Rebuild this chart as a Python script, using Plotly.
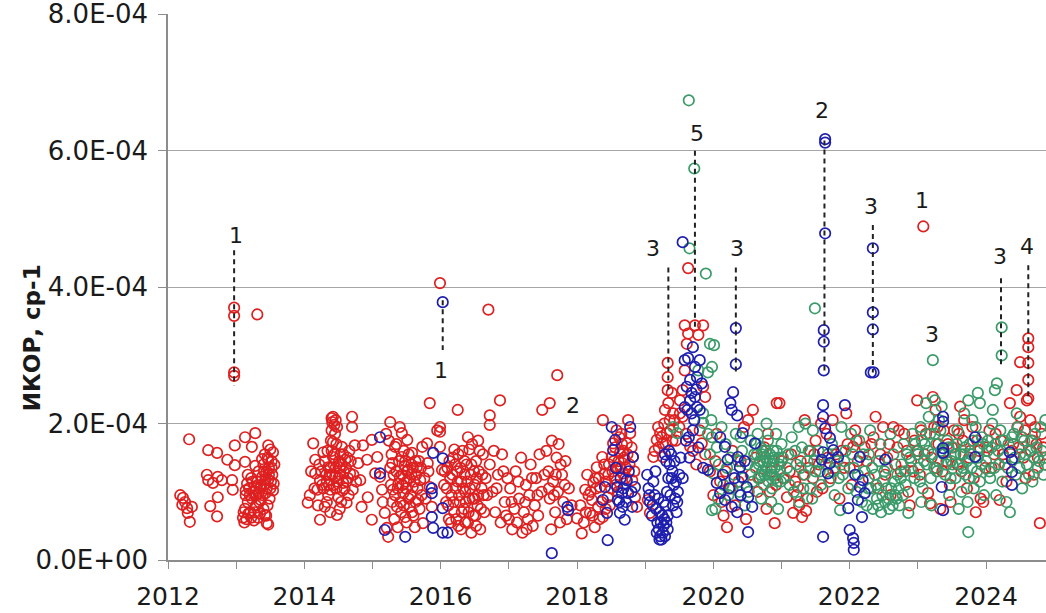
import plotly.graph_objects as go

# y values in units of 1E-04 sr^-1, x values in decimal years
red_points = [
    # 2012 - 2013
    (2012.18, 0.95), (2012.22, 0.91), (2012.21, 0.81), (2012.28, 0.76), (2012.35, 0.78),
    (2012.29, 0.69), (2012.32, 0.56), (2012.25, 0.85), (2012.31, 1.77),
    (2012.59, 1.61), (2012.72, 1.57), (2012.87, 1.47), (2012.98, 1.68), (2013.13, 1.80),
    (2013.28, 1.86), (2013.23, 1.66), (2013.47, 1.68),
    (2012.57, 1.25), (2012.59, 1.17), (2012.66, 1.13), (2012.73, 1.22), (2012.79, 1.17),
    (2012.94, 1.17), (2012.95, 1.03), (2012.73, 0.92), (2012.62, 0.79), (2012.72, 0.64),
    (2012.98, 1.39), (2013.13, 1.44),
    (2012.97, 3.70), (2012.97, 3.58), (2012.97, 2.75), (2012.97, 2.70), (2013.31, 3.60),
    (2013.10, 0.62), (2013.12, 0.55), (2013.15, 0.60), (2013.13, 0.75), (2013.17, 0.85),
    (2013.14, 0.95), (2013.19, 1.05), (2013.16, 1.12), (2013.21, 0.70), (2013.23, 0.90),
    (2013.25, 1.00), (2013.22, 1.20), (2013.27, 1.08), (2013.29, 0.80), (2013.30, 0.95),
    (2013.31, 1.15), (2013.33, 1.30), (2013.35, 1.05), (2013.36, 0.88), (2013.38, 1.22),
    (2013.40, 1.40), (2013.41, 1.10), (2013.43, 0.98), (2013.44, 1.28), (2013.46, 1.50),
    (2013.47, 1.18), (2013.48, 1.35), (2013.50, 1.05), (2013.52, 1.45), (2013.53, 1.25),
    (2013.54, 1.58), (2013.40, 0.75), (2013.44, 0.65), (2013.47, 0.52), (2013.35, 0.68),
    (2013.28, 1.38), (2013.26, 0.58), (2013.18, 0.68), (2013.55, 1.12), (2013.50, 1.62),
    (2013.47, 1.47), (2013.45, 0.54), (2013.42, 0.66),
    (2013.11, 0.70), (2013.14, 1.02), (2013.17, 1.25), (2013.20, 0.95), (2013.22, 0.62),
    (2013.24, 1.15), (2013.27, 0.70), (2013.30, 1.05), (2013.32, 0.62), (2013.34, 0.85),
    (2013.37, 1.10), (2013.39, 0.95), (2013.41, 1.30), (2013.43, 1.18), (2013.45, 1.05),
    (2013.46, 0.80), (2013.48, 1.25), (2013.49, 0.90), (2013.51, 1.15), (2013.52, 1.35),
    (2013.54, 1.02), (2013.56, 1.40), (2013.38, 1.48), (2013.42, 1.55), (2013.33, 0.98),
    # 2014 - 2015
    (2014.05, 0.84), (2014.13, 1.71), (2014.16, 1.47), (2014.16, 1.27), (2014.19, 1.03),
    (2014.23, 0.59), (2014.23, 1.17), (2014.28, 1.58), (2014.30, 0.78), (2014.35, 1.36),
    (2014.38, 1.03), (2014.40, 2.08), (2014.40, 1.90), (2014.42, 1.73), (2014.42, 1.51),
    (2014.45, 1.22), (2014.48, 0.66), (2014.50, 0.92), (2014.52, 1.36), (2014.55, 1.66),
    (2014.57, 1.13), (2014.60, 1.47), (2014.62, 0.84), (2014.70, 2.10), (2014.70, 1.95),
    (2014.67, 1.27), (2014.71, 1.03), (2014.74, 1.68), (2014.79, 1.42), (2014.82, 1.17),
    (2014.84, 0.78), (2014.86, 1.68), (2014.92, 1.47), (2014.93, 0.92), (2014.99, 1.76),
    (2014.99, 0.59), (2015.07, 1.51), (2015.04, 1.27),
    (2014.33, 1.15), (2014.37, 1.25), (2014.43, 1.40), (2014.47, 1.05), (2014.50, 1.20),
    (2014.53, 1.55), (2014.56, 1.02), (2014.45, 1.85), (2014.40, 1.60), (2014.35, 0.95),
    (2014.58, 1.30), (2014.62, 1.15), (2014.28, 1.05), (2014.48, 1.95), (2014.41, 2.02),
    (2014.25, 1.30), (2014.20, 0.80), (2014.65, 0.95), (2014.66, 1.60),
    (2014.22, 1.40), (2014.26, 1.10), (2014.30, 1.45), (2014.32, 1.25), (2014.34, 1.60),
    (2014.36, 1.10), (2014.38, 1.35), (2014.39, 1.75), (2014.41, 1.25), (2014.43, 1.10),
    (2014.44, 1.55), (2014.46, 1.35), (2014.47, 1.70), (2014.49, 1.15), (2014.51, 1.45),
    (2014.53, 1.25), (2014.54, 0.85), (2014.55, 1.40), (2014.57, 1.55), (2014.59, 1.05),
    (2014.61, 1.35), (2014.63, 1.50), (2014.64, 1.20), (2014.68, 1.45), (2014.72, 1.25),
    (2014.76, 1.15), (2014.44, 1.98), (2014.42, 2.10), (2014.46, 2.05), (2014.52, 0.75),
    (2014.38, 0.70), (2014.33, 0.85), (2014.15, 1.05), (2014.10, 1.30), (2014.08, 0.95),
    (2015.26, 2.02), (2015.40, 1.95), (2015.43, 1.86), (2015.11, 1.22), (2015.14, 1.03),
    (2015.15, 0.85), (2015.18, 0.69), (2015.21, 0.47), (2015.23, 0.34), (2015.29, 1.42),
    (2015.30, 1.03), (2015.33, 1.66), (2015.36, 0.78), (2015.37, 0.48), (2015.40, 1.22),
    (2015.43, 1.51), (2015.45, 0.98), (2015.48, 0.63), (2015.51, 1.76), (2015.52, 1.32),
    (2015.55, 0.78), (2015.58, 1.57), (2015.59, 1.07), (2015.62, 0.48), (2015.65, 1.36),
    (2015.67, 0.88), (2015.70, 1.17), (2015.73, 1.66), (2015.74, 0.54), (2015.80, 1.71),
    (2015.81, 1.42), (2015.84, 1.07), (2015.87, 0.78), (2015.95, 1.90), (2015.99, 1.66),
    (2016.02, 1.32),
    (2015.35, 1.30), (2015.38, 1.12), (2015.42, 0.70), (2015.46, 1.60), (2015.50, 1.15),
    (2015.53, 0.90), (2015.57, 1.25), (2015.60, 0.65), (2015.63, 1.45), (2015.27, 1.10),
    (2015.32, 0.60), (2015.47, 1.38), (2015.24, 1.75), (2015.20, 1.85),
    (2015.28, 1.55), (2015.31, 1.25), (2015.33, 0.95), (2015.35, 1.70), (2015.37, 1.05),
    (2015.39, 1.45), (2015.41, 0.85), (2015.43, 1.25), (2015.44, 1.10), (2015.46, 0.80),
    (2015.48, 1.45), (2015.49, 1.05), (2015.51, 1.30), (2015.53, 1.55), (2015.54, 1.20),
    (2015.56, 0.95), (2015.57, 1.40), (2015.59, 1.35), (2015.61, 1.15), (2015.63, 0.85),
    (2015.64, 1.25), (2015.66, 1.05), (2015.68, 1.45), (2015.69, 0.75), (2015.71, 1.35),
    (2015.72, 0.95), (2015.76, 1.20), (2015.78, 0.90), (2015.82, 1.30), (2015.29, 0.85),
    (2015.26, 1.35), (2015.50, 0.55), (2015.58, 0.70),
    (2015.84, 2.30), (2015.99, 4.06), (2015.99, 1.95), (2015.99, 1.88),
    # 2016 - 2018
    (2016.25, 2.20), (2016.87, 2.34), (2016.72, 2.12), (2016.72, 1.98), (2016.70, 3.67),
    (2017.49, 2.20), (2017.60, 2.30), (2017.71, 2.71),
    (2016.05, 1.10), (2016.08, 0.85), (2016.10, 1.35), (2016.12, 0.60), (2016.14, 1.20),
    (2016.16, 0.95), (2016.18, 1.50), (2016.20, 0.70), (2016.22, 1.05), (2016.24, 1.30),
    (2016.26, 0.50), (2016.28, 0.85), (2016.30, 1.15), (2016.32, 1.60), (2016.34, 0.75),
    (2016.36, 1.00), (2016.38, 1.40), (2016.40, 0.55), (2016.42, 0.90), (2016.44, 1.25),
    (2016.46, 1.70), (2016.48, 0.65), (2016.50, 1.10), (2016.52, 1.45), (2016.54, 0.80),
    (2016.56, 1.30), (2016.58, 0.45), (2016.60, 1.05), (2016.62, 1.55), (2016.64, 0.70),
    (2016.66, 1.20), (2016.40, 1.80), (2016.55, 1.75), (2016.45, 0.40), (2016.30, 0.45),
    (2016.20, 1.62), (2016.35, 1.25), (2016.50, 0.90), (2016.15, 0.55), (2016.68, 0.95),
    (2016.06, 1.30), (2016.09, 1.05), (2016.11, 0.80), (2016.13, 1.45), (2016.17, 1.25),
    (2016.19, 0.85), (2016.21, 1.40), (2016.23, 0.60), (2016.25, 1.15), (2016.27, 0.95),
    (2016.29, 1.35), (2016.31, 0.70), (2016.33, 1.05), (2016.35, 1.45), (2016.37, 0.85),
    (2016.39, 1.15), (2016.41, 0.70), (2016.43, 1.05), (2016.45, 1.40), (2016.47, 0.90),
    (2016.49, 1.30), (2016.51, 0.65), (2016.53, 1.20), (2016.55, 0.95), (2016.57, 1.60),
    (2016.59, 0.75), (2016.61, 1.25), (2016.63, 0.95), (2016.36, 0.55), (2016.42, 1.62),
    (2016.26, 1.55), (2016.52, 0.50),
    (2016.72, 1.40), (2016.76, 1.00), (2016.80, 0.70), (2016.84, 1.25), (2016.88, 0.55),
    (2016.90, 1.55), (2016.94, 0.85), (2016.98, 1.20), (2017.00, 0.60), (2016.78, 1.60),
    (2016.82, 1.05), (2016.92, 1.30), (2016.96, 0.65),
    (2017.02, 1.05), (2017.05, 0.45), (2017.08, 0.75), (2017.10, 1.30), (2017.12, 0.55),
    (2017.15, 0.90), (2017.18, 1.50), (2017.20, 0.40), (2017.22, 0.70), (2017.25, 1.10),
    (2017.28, 0.60), (2017.30, 0.95), (2017.32, 1.40), (2017.35, 0.50), (2017.38, 0.80),
    (2017.40, 1.20), (2017.43, 0.65), (2017.45, 1.55), (2017.48, 1.00),
    (2017.04, 0.85), (2017.14, 1.15), (2017.24, 0.85), (2017.34, 1.20), (2017.42, 0.95),
    (2017.52, 1.25), (2017.26, 0.45),
    (2017.55, 1.60), (2017.58, 1.30), (2017.60, 0.90), (2017.62, 0.45), (2017.65, 1.15),
    (2017.68, 0.70), (2017.70, 1.50), (2017.72, 1.00), (2017.75, 0.55), (2017.78, 1.25),
    (2017.80, 0.85), (2017.83, 1.45), (2017.85, 0.60), (2017.63, 1.75), (2017.73, 1.70),
    (2017.88, 1.05), (2017.92, 0.80), (2017.66, 0.95), (2017.76, 1.40), (2017.82, 1.10),
    (2017.69, 1.25), (2017.59, 1.05),
    # 2018 - 2019
    (2018.00, 0.61), (2018.07, 0.39), (2018.12, 1.03), (2018.15, 1.25), (2018.19, 0.69),
    (2018.22, 0.88), (2018.24, 1.14), (2018.26, 0.48), (2018.29, 1.36), (2018.31, 0.78),
    (2018.34, 1.07), (2018.37, 1.51), (2018.38, 2.05), (2018.38, 0.63), (2018.41, 1.27),
    (2018.45, 0.92), (2018.51, 1.51), (2018.53, 1.71), (2018.59, 1.36), (2018.63, 1.57),
    (2018.67, 1.27), (2018.70, 1.47), (2018.73, 1.71), (2018.75, 2.05), (2018.78, 1.86),
    (2018.81, 1.17), (2018.82, 1.51), (2018.85, 0.92), (2018.88, 0.78),
    (2018.05, 0.80), (2018.10, 0.55), (2018.20, 1.00), (2018.27, 1.20), (2018.33, 0.60),
    (2018.43, 1.15), (2018.47, 1.40), (2018.55, 1.20), (2018.60, 1.00), (2018.65, 1.85),
    (2018.68, 1.60), (2018.72, 1.35), (2018.56, 1.65), (2018.48, 0.80),
    (2018.13, 0.70), (2018.17, 0.95), (2018.23, 0.65), (2018.28, 1.05), (2018.32, 1.20),
    (2018.36, 0.85), (2018.40, 1.40), (2018.42, 0.75), (2018.46, 1.25), (2018.50, 1.05),
    (2018.52, 1.30), (2018.54, 1.45), (2018.57, 1.10), (2018.61, 1.45), (2018.64, 1.35),
    (2018.66, 1.70), (2018.69, 1.50), (2018.71, 1.20), (2018.74, 1.55), (2018.77, 1.40),
    (2018.80, 1.65), (2018.84, 1.30), (2018.62, 1.80), (2018.58, 1.90),
    (2019.07, 0.69), (2019.04, 0.88), (2019.22, 1.86), (2019.26, 1.71), (2019.32, 1.86),
    (2019.36, 2.05), (2019.29, 2.20), (2019.33, 2.89), (2019.33, 2.68), (2019.33, 2.49),
    (2019.39, 2.45), (2019.26, 1.51), (2019.17, 1.76), (2019.12, 1.51), (2019.41, 2.15),
    (2019.14, 1.60), (2019.19, 1.95), (2019.24, 1.80), (2019.28, 2.00), (2019.30, 1.70),
    (2019.34, 2.30), (2019.37, 1.90), (2019.40, 1.75), (2019.43, 2.05), (2019.20, 1.65),
    (2019.58, 3.44), (2019.73, 3.44), (2019.85, 3.44), (2019.63, 3.32), (2019.78, 3.30),
    (2019.61, 3.17), (2019.58, 2.78), (2019.55, 2.49), (2019.85, 2.54), (2019.88, 2.39),
    (2019.51, 2.34), (2019.51, 2.15), (2019.83, 1.71), (2019.66, 1.66), (2019.63, 4.28),
    (2019.45, 1.75), (2019.50, 1.95), (2019.55, 2.10), (2019.60, 1.85), (2019.70, 1.60),
    (2019.75, 1.40), (2019.80, 1.90), (2019.88, 1.55),
    # 2020 - 2025
    (2019.95, 1.30), (2020.00, 0.95), (2020.05, 1.85), (2020.10, 1.15), (2020.15, 0.65),
    (2020.20, 0.48), (2020.25, 1.05), (2020.32, 0.80), (2020.40, 1.45), (2020.48, 0.60),
    (2020.51, 2.05), (2020.55, 1.25), (2020.58, 2.20), (2020.45, 1.95), (2020.12, 0.85),
    (2020.03, 1.45), (2020.18, 1.30), (2020.28, 1.60), (2020.37, 1.15),
    (2020.65, 1.00), (2020.72, 1.60), (2020.78, 0.75), (2020.85, 1.30), (2020.90, 0.54),
    (2020.93, 2.30), (2020.97, 2.30), (2020.92, 1.10), (2021.00, 1.45), (2020.80, 1.85),
    (2020.62, 1.50), (2020.68, 1.20), (2020.75, 1.65), (2020.83, 1.00), (2020.88, 1.45),
    (2021.08, 0.92), (2021.12, 1.30), (2021.17, 0.69), (2021.20, 1.15), (2021.24, 1.07),
    (2021.28, 1.45), (2021.30, 0.63), (2021.32, 1.25), (2021.34, 2.05), (2021.38, 0.90),
    (2021.42, 1.60), (2021.46, 1.20), (2021.50, 1.75), (2021.55, 1.40), (2021.58, 2.00),
    (2021.60, 1.05), (2021.26, 0.80), (2021.36, 0.72),
    (2021.03, 1.20), (2021.14, 1.55), (2021.22, 0.95), (2021.40, 1.35), (2021.48, 1.55),
    (2021.52, 1.00),
    (2021.66, 1.85), (2021.72, 1.20), (2021.80, 1.55), (2021.85, 0.90), (2021.92, 1.35),
    (2021.97, 1.70), (2022.03, 1.10), (2022.05, 1.66), (2022.08, 1.90), (2022.12, 1.45),
    (2021.75, 2.05), (2021.95, 2.15), (2021.68, 1.50), (2021.78, 1.35), (2021.88, 1.60),
    (2022.00, 1.35), (2022.10, 1.75),
    (2022.22, 1.65), (2022.28, 1.20), (2022.35, 1.80), (2022.42, 1.05), (2022.49, 1.95),
    (2022.55, 1.50), (2022.60, 0.95), (2022.64, 1.95), (2022.70, 1.65), (2022.75, 1.30),
    (2022.80, 1.85), (2022.86, 1.00), (2022.90, 1.45), (2022.38, 2.10),
    (2022.25, 1.45), (2022.32, 1.70), (2022.45, 1.55), (2022.52, 1.25), (2022.58, 1.70),
    (2022.67, 1.40), (2022.72, 1.90), (2022.84, 1.60), (2022.88, 0.80),
    (2022.95, 1.75), (2022.99, 2.34), (2023.03, 1.25), (2023.08, 4.89), (2023.10, 1.55),
    (2023.15, 0.98), (2023.18, 0.83), (2023.22, 2.39), (2023.24, 1.95), (2023.27, 1.35),
    (2023.30, 1.70), (2023.33, 0.75), (2023.38, 1.90), (2023.42, 1.45), (2023.47, 1.10),
    (2023.50, 1.65), (2023.26, 2.20), (2023.05, 1.90),
    (2022.93, 1.30), (2023.00, 1.60), (2023.12, 1.85), (2023.20, 1.50), (2023.29, 1.95),
    (2023.36, 1.30), (2023.44, 1.70), (2023.48, 0.85),
    (2023.55, 1.55), (2023.60, 1.85), (2023.64, 1.30), (2023.68, 2.05), (2023.72, 1.05),
    (2023.77, 1.60), (2023.82, 1.20), (2023.87, 1.75), (2023.92, 0.90), (2023.96, 0.85),
    (2024.02, 1.65), (2023.62, 2.25), (2023.85, 0.70),
    (2023.53, 1.90), (2023.58, 1.40), (2023.66, 1.75), (2023.75, 1.50), (2023.80, 1.95),
    (2023.90, 1.60), (2023.99, 1.35),
    (2024.08, 1.35), (2024.14, 1.85), (2024.20, 0.88), (2024.25, 1.55), (2024.30, 1.15),
    (2024.35, 2.30), (2024.40, 1.70), (2024.45, 2.49), (2024.46, 1.95), (2024.50, 2.90),
    (2024.50, 2.10), (2024.53, 1.80), (2024.57, 1.90), (2024.62, 3.25), (2024.62, 3.12),
    (2024.62, 2.89), (2024.62, 2.64), (2024.62, 2.37), (2024.60, 2.34), (2024.65, 2.05),
    (2024.68, 1.75), (2024.72, 1.95), (2024.76, 1.50), (2024.79, 0.54), (2024.82, 1.85),
    (2024.86, 1.40), (2024.58, 1.20),
    (2024.05, 1.90), (2024.12, 1.55), (2024.22, 1.75), (2024.28, 1.40), (2024.38, 1.60),
    (2024.48, 1.65), (2024.55, 1.50), (2024.66, 1.60), (2024.70, 1.25), (2024.74, 1.70),
    (2024.84, 1.65),
]

blue_points = [
    (2015.11, 1.80), (2015.11, 1.27), (2015.18, 0.44), (2015.48, 0.34),
    (2015.87, 0.98), (2015.87, 1.05), (2015.89, 1.57), (2015.87, 0.63), (2015.89, 0.47),
    (2016.03, 1.49), (2016.03, 0.76), (2016.03, 0.40), (2016.10, 0.40), (2016.03, 3.78),
    (2017.63, 0.10), (2017.87, 0.73), (2017.86, 0.78),
    (2018.45, 0.29), (2018.51, 1.95), (2018.56, 1.76), (2018.53, 1.61), (2018.59, 1.07),
    (2018.60, 0.88), (2018.63, 0.69), (2018.66, 0.98), (2018.67, 0.78), (2018.70, 0.59),
    (2018.73, 1.17), (2018.75, 0.98), (2018.78, 1.95), (2018.81, 0.78), (2018.82, 1.51),
    (2018.85, 1.07), (2018.38, 0.88), (2018.44, 0.69), (2018.41, 1.07),
    (2018.62, 0.85), (2018.64, 1.20), (2018.68, 1.05), (2018.72, 0.85), (2018.76, 1.30),
    (2018.80, 1.00), (2018.57, 1.35),
    (2019.03, 1.25), (2019.05, 1.05), (2019.07, 0.85), (2019.10, 0.65), (2019.12, 1.15),
    (2019.14, 0.95), (2019.16, 0.75), (2019.18, 0.55), (2019.20, 0.45), (2019.22, 0.35),
    (2019.24, 0.30), (2019.26, 0.40), (2019.28, 0.60), (2019.30, 0.80), (2019.32, 1.00),
    (2019.34, 1.20), (2019.36, 1.40), (2019.38, 1.55), (2019.40, 1.30), (2019.42, 1.10),
    (2019.44, 0.90), (2019.46, 0.70), (2019.48, 1.00), (2019.50, 1.25), (2019.27, 0.50),
    (2019.23, 0.55), (2019.21, 0.70), (2019.31, 1.45), (2019.29, 1.55), (2019.35, 1.60),
    (2019.33, 0.65), (2019.15, 1.30), (2019.52, 1.50),
    (2019.06, 0.95), (2019.11, 0.80), (2019.17, 0.40), (2019.19, 0.90), (2019.21, 0.30),
    (2019.25, 0.65), (2019.27, 0.85), (2019.29, 0.35), (2019.31, 0.55), (2019.33, 0.45),
    (2019.37, 0.95), (2019.39, 1.20), (2019.41, 0.80), (2019.43, 1.45), (2019.45, 1.15),
    (2019.47, 0.85),
    (2019.63, 2.96), (2019.58, 2.93), (2019.66, 2.64), (2019.73, 2.83), (2019.80, 2.93),
    (2019.61, 2.54), (2019.73, 2.39), (2019.66, 2.34), (2019.83, 2.59), (2019.76, 2.24),
    (2019.58, 2.24), (2019.70, 3.12), (2019.68, 2.15), (2019.76, 2.68), (2019.55, 4.66),
    (2019.55, 1.20), (2019.60, 1.75), (2019.65, 1.50), (2019.70, 1.90), (2019.78, 1.65),
    (2019.85, 1.35), (2019.62, 2.20), (2019.72, 2.05), (2019.92, 1.32),
    (2019.64, 1.80), (2019.68, 2.45), (2019.75, 2.50), (2019.80, 2.20),
    (2020.33, 3.40), (2020.33, 2.87), (2020.29, 2.46), (2020.25, 2.30), (2020.27, 2.20),
    (2020.35, 2.12), (2020.43, 1.86), (2020.61, 1.71), (2020.10, 1.80), (2020.17, 1.66),
    (2020.21, 1.47), (2020.36, 1.51), (2020.39, 1.36), (2020.42, 1.22), (2020.49, 1.07),
    (2020.05, 1.13), (2020.10, 0.98), (2020.17, 0.88), (2020.27, 0.78), (2020.35, 0.70),
    (2020.51, 0.92), (2020.57, 0.78), (2020.51, 0.41),
    (2020.14, 1.25), (2020.23, 1.05), (2020.31, 1.20), (2020.40, 0.95), (2020.46, 1.45),
    (2021.64, 6.17), (2021.64, 6.12), (2021.64, 4.79), (2021.62, 3.37), (2021.62, 3.20),
    (2021.62, 2.78), (2021.61, 2.27), (2021.61, 2.10), (2021.64, 1.93), (2021.71, 1.79),
    (2021.61, 1.58), (2021.59, 1.47), (2021.71, 1.42), (2021.68, 1.27), (2021.83, 1.51),
    (2021.76, 1.61), (2021.61, 0.34), (2021.93, 2.27),
    (2022.34, 4.57), (2022.34, 3.63), (2022.34, 3.38), (2022.31, 2.75), (2022.35, 2.75),
    (2022.15, 1.51), (2022.08, 1.25), (2022.19, 1.17), (2022.15, 1.07), (2022.22, 0.98),
    (2022.12, 0.88), (2021.98, 0.76), (2022.18, 0.63), (2022.00, 0.44), (2022.05, 0.32),
    (2022.06, 0.25), (2022.06, 0.15), (2022.52, 1.47),
    (2023.37, 2.10), (2023.37, 2.03), (2023.37, 1.64), (2023.37, 1.57), (2023.35, 1.07),
    (2023.37, 0.73), (2023.84, 1.80), (2023.84, 1.51),
    (2024.35, 1.58), (2024.38, 1.47), (2024.38, 1.29), (2024.38, 1.10),
]

green_points = [
    (2019.64, 6.74), (2019.72, 5.74), (2019.65, 4.57), (2019.89, 4.20), (2020.01, 3.15),
    (2019.95, 3.17), (2019.78, 2.78), (2019.98, 2.83), (2019.85, 2.01), (2019.41, 1.95),
    (2019.47, 1.86), (2019.98, 1.80), (2020.00, 1.27), (2019.98, 0.73), (2019.92, 2.75),
    (2019.85, 2.15),
    (2021.49, 3.69), (2023.22, 2.93), (2024.23, 3.41), (2024.23, 3.00), (2024.16, 2.59),
    (2024.13, 2.49), (2023.88, 2.45), (2023.91, 2.30), (2023.74, 2.34), (2023.25, 2.34),
    (2023.74, 0.41), (2022.86, 0.69),
    (2019.92, 1.85), (2019.95, 1.55), (2019.97, 2.05), (2020.03, 0.75), (2020.05, 1.65),
    (2020.08, 1.40), (2020.12, 1.95), (2020.15, 1.10), (2020.18, 1.70), (2020.22, 0.95),
    (2020.25, 1.50), (2020.30, 1.25), (2020.33, 1.85), (2020.38, 1.00), (2020.42, 1.60),
    (2020.46, 0.80), (2020.50, 1.40), (2020.55, 1.75), (2020.58, 1.15),
    (2020.20, 1.35), (2020.28, 1.05), (2020.36, 1.45), (2020.44, 1.20), (2020.52, 1.00),
    (2020.07, 0.90), (2020.40, 1.80),
    (2020.62, 1.35), (2020.64, 1.55), (2020.66, 1.20), (2020.68, 1.45), (2020.70, 1.65),
    (2020.72, 1.30), (2020.74, 1.10), (2020.76, 1.50), (2020.78, 1.35), (2020.80, 1.75),
    (2020.82, 1.25), (2020.84, 1.45), (2020.86, 1.05), (2020.88, 1.60), (2020.90, 1.35),
    (2020.92, 1.85), (2020.94, 1.15), (2020.96, 1.50), (2020.98, 1.30), (2021.00, 1.70),
    (2020.70, 0.90), (2020.85, 0.85), (2020.65, 1.85), (2020.95, 0.75), (2020.78, 2.00),
    (2020.60, 1.55), (2020.63, 1.70), (2020.67, 1.40), (2020.69, 1.25), (2020.71, 1.55),
    (2020.73, 1.45), (2020.75, 1.25), (2020.77, 1.60), (2020.79, 1.45), (2020.81, 1.15),
    (2020.83, 1.55), (2020.85, 1.35), (2020.87, 1.25), (2020.89, 1.50), (2020.91, 1.20),
    (2020.93, 1.60), (2020.97, 1.40), (2020.99, 1.15),
    (2021.05, 1.20), (2021.10, 1.55), (2021.15, 1.80), (2021.18, 1.00), (2021.22, 1.40),
    (2021.26, 0.85), (2021.30, 1.65), (2021.34, 1.25), (2021.38, 1.45), (2021.42, 1.05),
    (2021.46, 1.90), (2021.50, 1.30), (2021.54, 1.60), (2021.58, 1.10), (2021.35, 2.00),
    (2021.45, 0.90), (2021.25, 1.95),
    (2021.02, 1.50), (2021.08, 1.35), (2021.12, 1.10), (2021.20, 1.60), (2021.28, 1.35),
    (2021.32, 1.05), (2021.40, 1.60), (2021.48, 1.45), (2021.56, 1.30),
    (2021.65, 1.40), (2021.70, 1.15), (2021.74, 1.70), (2021.78, 0.95), (2021.82, 1.45),
    (2021.86, 0.73), (2021.90, 1.25), (2021.94, 1.60), (2021.98, 1.05), (2022.02, 1.85),
    (2022.06, 1.35), (2022.10, 1.00), (2022.14, 1.75), (2022.18, 0.85), (2021.88, 1.95),
    (2021.68, 1.55), (2021.76, 1.30), (2021.84, 1.20), (2021.92, 1.45), (2022.04, 1.55),
    (2022.12, 1.25), (2022.20, 1.55),
    (2022.22, 1.30), (2022.25, 0.80), (2022.28, 1.55), (2022.31, 1.05), (2022.34, 0.75),
    (2022.37, 1.25), (2022.40, 0.90), (2022.43, 1.45), (2022.46, 0.70), (2022.49, 1.15),
    (2022.52, 0.85), (2022.55, 1.35), (2022.58, 0.75), (2022.61, 1.05), (2022.64, 1.55),
    (2022.67, 0.95), (2022.70, 1.25), (2022.73, 0.80), (2022.76, 1.40), (2022.79, 1.70),
    (2022.82, 1.10), (2022.45, 1.70), (2022.60, 1.85), (2022.30, 1.90),
    (2022.27, 1.05), (2022.33, 1.35), (2022.39, 1.10), (2022.42, 0.80), (2022.48, 0.95),
    (2022.51, 1.30), (2022.54, 1.05), (2022.57, 0.90), (2022.63, 0.80), (2022.66, 1.15),
    (2022.69, 0.90), (2022.72, 1.05), (2022.75, 1.20), (2022.78, 0.95), (2022.81, 1.30),
    (2022.84, 1.55),
    (2022.88, 1.50), (2022.92, 1.85), (2022.95, 1.20), (2022.98, 1.60), (2023.01, 1.35),
    (2023.04, 1.95), (2023.07, 1.05), (2023.10, 1.70), (2023.13, 1.40), (2023.16, 2.10),
    (2023.19, 1.20), (2023.22, 1.55), (2023.25, 1.85), (2023.28, 1.30), (2023.31, 2.05),
    (2023.34, 1.60), (2023.40, 1.25), (2023.43, 1.75), (2023.46, 0.95), (2023.49, 1.45),
    (2023.05, 0.85), (2023.20, 0.80), (2023.35, 2.25), (2023.12, 2.30),
    (2022.90, 1.35), (2022.96, 1.70), (2023.00, 1.55), (2023.03, 1.15), (2023.06, 1.75),
    (2023.09, 1.45), (2023.15, 1.60), (2023.18, 1.85), (2023.24, 1.35), (2023.27, 1.70),
    (2023.30, 1.45), (2023.33, 1.90), (2023.38, 1.55), (2023.42, 1.40), (2023.45, 1.65),
    (2023.48, 1.20),
    (2023.52, 1.65), (2023.55, 1.20), (2023.58, 1.90), (2023.61, 1.40), (2023.64, 1.00),
    (2023.67, 1.55), (2023.70, 1.25), (2023.73, 0.85), (2023.76, 1.70), (2023.79, 1.35),
    (2023.82, 1.05), (2023.85, 1.95), (2023.88, 1.50), (2023.91, 1.15), (2023.94, 1.80),
    (2023.97, 0.95), (2023.60, 0.75), (2023.80, 2.05), (2023.68, 2.15),
    (2023.51, 1.40), (2023.54, 1.55), (2023.57, 1.70), (2023.63, 1.55), (2023.66, 1.35),
    (2023.69, 1.65), (2023.72, 1.45), (2023.75, 1.20), (2023.78, 1.55), (2023.81, 1.75),
    (2023.87, 1.30), (2023.90, 1.65), (2023.93, 1.40), (2023.96, 1.70),
    (2024.00, 1.45), (2024.03, 1.75), (2024.06, 1.20), (2024.09, 2.00), (2024.12, 1.35),
    (2024.15, 0.95), (2024.18, 1.60), (2024.21, 1.90), (2024.24, 1.15), (2024.27, 1.50),
    (2024.30, 0.85), (2024.33, 1.70), (2024.41, 1.85), (2024.44, 1.25), (2024.47, 1.95),
    (2024.50, 1.55), (2024.53, 1.05), (2024.56, 1.75), (2024.60, 1.40), (2024.64, 1.60),
    (2024.68, 1.15), (2024.72, 1.85), (2024.76, 1.35), (2024.80, 1.95), (2024.84, 1.25),
    (2024.87, 2.05), (2024.10, 2.20), (2024.45, 2.15), (2024.35, 0.70),
    (2024.02, 1.60), (2024.05, 1.30), (2024.08, 1.65), (2024.14, 1.70), (2024.19, 1.40),
    (2024.26, 1.75), (2024.32, 1.35), (2024.38, 1.80), (2024.42, 1.50), (2024.49, 1.35),
    (2024.52, 1.80), (2024.58, 1.55), (2024.63, 1.25), (2024.66, 1.75), (2024.70, 1.50),
    (2024.74, 1.65), (2024.78, 1.45), (2024.82, 1.60), (2024.86, 1.50),
]

# event labels
label_x = [2013.00, 2016.00, 2017.94, 2019.11, 2019.76, 2020.35, 2021.59, 2022.31,
           2023.06, 2023.21, 2024.20, 2024.60]
label_y = [4.76, 2.78, 2.27, 4.57, 6.26, 4.57, 6.59, 5.19, 5.27, 3.30, 4.45, 4.60]
label_text = ["1", "1", "2", "3", "5", "3", "2", "3", "1", "3", "3", "4"]

# dashed event lines
line_x = [2012.97, 2016.03, 2019.34, 2019.73, 2020.33, 2021.63, 2022.34, 2024.22, 2024.62]
line_top = [4.54, 3.81, 4.29, 6.00, 4.29, 6.15, 4.91, 4.13, 4.32]
line_bottom = [2.56, 3.08, 2.46, 3.37, 2.75, 2.75, 2.75, 2.86, 2.34]

y_tickvals = [0, 2, 4, 6, 8]
y_ticktext = ["0.0E+00", "2.0E-04", "4.0E-04", "6.0E-04", "8.0E-04"]
x_tickvals = [2012, 2013, 2014, 2015, 2016, 2017, 2018, 2019, 2020, 2021, 2022, 2023, 2024]
x_ticktext = ["2012", "", "2014", "", "2016", "", "2018", "", "2020", "", "2022", "", "2024"]

colors = {"red": "rgb(222,32,32)", "green": "rgb(58,155,105)", "blue": "rgb(30,30,175)"}

fig = go.Figure()
for name, pts in [("red", red_points), ("green", green_points), ("blue", blue_points)]:
    xs = [p[0] for p in pts]
    ys = [p[1] for p in pts]
    fig.add_trace(go.Scatter(
        x=xs, y=ys, mode="markers", name=name, showlegend=False,
        marker=dict(symbol="circle-open", size=10.5, color=colors[name],
                    line=dict(width=1.7)),
    ))

lx, ly = [], []
for x, t, b in zip(line_x, line_top, line_bottom):
    lx += [x, x, None]
    ly += [t, b, None]
fig.add_trace(go.Scatter(x=lx, y=ly, mode="lines", showlegend=False,
                         line=dict(color="#222222", width=2, dash="5px,4px")))

for x, y, t in zip(label_x, label_y, label_text):
    fig.add_annotation(x=x, y=y, text=t, showarrow=False,
                       font=dict(family="DejaVu Sans", size=22, color="#1a1a1a"))

fig.add_annotation(xref="paper", yref="paper", x=-0.1720, y=0.408,
                   text="<b>ИКОР, ср-1</b>", textangle=-90, showarrow=False,
                   font=dict(family="DejaVu Sans", size=23, color="#1a1a1a"))

fig.update_layout(
    width=1046, height=613,
    margin=dict(l=168, r=0, t=14, b=53),
    plot_bgcolor="white", paper_bgcolor="white",
    font=dict(family="DejaVu Sans", color="#1a1a1a"),
)
fig.update_xaxes(range=[2012, 2024.88], tickvals=x_tickvals, ticktext=x_ticktext,
                 automargin=False,
                 showgrid=False, zeroline=False, showline=True, linecolor="#8c8c8c",
                 linewidth=1.5, ticks="outside", ticklen=7, tickcolor="#8c8c8c",
                 tickfont=dict(family="DejaVu Sans", size=25, color="#1a1a1a"),
                 ticklabelstandoff=6)
fig.update_yaxes(range=[0, 8.005], tickvals=y_tickvals, ticktext=y_ticktext,
                 automargin=False, ticklabeloverflow="allow",
                 showgrid=True, gridcolor="#a6a6a6", gridwidth=1.2, zeroline=False,
                 showline=True, linecolor="#8c8c8c", linewidth=1.5,
                 ticks="outside", ticklen=8, tickcolor="#8c8c8c",
                 tickfont=dict(family="DejaVu Sans", size=26, color="#1a1a1a"),
                 ticklabelstandoff=5)

# remove the default 8 px page margin so the figure sits at the window's corner
fig.write_html("out.html", config={"displayModeBar": False},
               post_script="document.body.style.margin='0';")
